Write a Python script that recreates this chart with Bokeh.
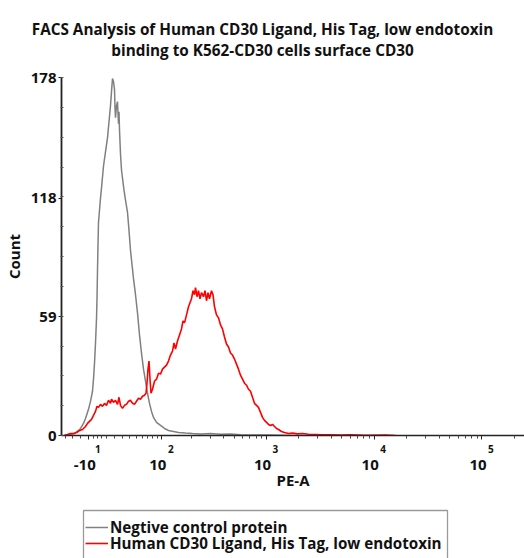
import numpy as np
from bokeh.plotting import figure
from bokeh.layouts import column
from bokeh.models import (Range1d, FixedTicker, Legend, LegendItem, LinearAxis, Label,
                          BoxAnnotation, CustomJSTickFormatter)
from bokeh.embed import file_html
from bokeh.resources import INLINE

title_lines = ["FACS Analysis of Human CD30 Ligand, His Tag, low endotoxin",
               "binding to K562-CD30 cells surface CD30"]
x_label = "PE-A"
y_label = "Count"
series_names = ["Negtive control protein", "Human CD30 Ligand, His Tag, low endotoxin"]

# histogram: display channel (linear display scale of the biexponential axis) and counts
neg_channel = [3, 6, 9, 13, 16, 19, 22, 24, 27, 29, 31, 32, 33, 34, 35, 35.5, 36, 36.5, 37, 38, 39, 40,
               42, 44, 46, 47.5, 49, 50, 51, 52, 53, 53.5, 54, 55, 56, 56.5, 57, 57.5, 58, 59, 60, 61,
               62.5, 64, 66, 67.5, 69, 70.5, 72, 74, 76, 78, 80, 82, 84, 86, 88, 90, 92, 95, 99, 103,
               107, 112, 117, 124, 131, 139, 149, 159, 169, 179, 194, 209, 229]
neg_count = [0, 0.3, 0.5, 1, 2, 3.5, 6, 8.5, 13, 17, 22, 28, 36, 46, 58, 68, 82, 95, 106, 112, 118, 123,
             134, 141, 148, 156, 164, 171, 177.5, 176, 172, 163, 158, 164, 166, 160, 155, 161, 152, 140, 132, 128,
             122, 117, 111, 102, 92, 85, 78, 70, 61, 50, 41, 33, 27, 21, 16, 12, 9, 6.5, 5, 3.5,
             2.5, 2, 1.5, 1.2, 1, 0.8, 1, 0.6, 0.7, 0.4, 0.3, 0.2, 0]

cd30_channel = [3, 6, 9, 12, 15, 18, 21, 24, 26, 28, 30, 32, 34, 35.5, 37, 39, 41, 43, 45, 47, 49, 50,
                52, 54, 56, 57.5, 59, 61, 63, 65, 67, 69, 71, 73, 75, 77, 79, 81, 83, 84.5, 85.5, 86.5,
                87.5, 88.5, 89.5, 91, 93, 95, 97, 99, 101, 103, 105, 107, 109, 111, 112.5, 114, 116, 118,
                120, 121.5, 123, 125, 127, 128.5, 130, 131.5, 133, 134, 135.5, 137, 138.5, 140, 142, 143.5,
                145, 146.5, 148, 150, 151.5, 153, 155, 157, 159, 161, 163, 165, 167, 169, 171, 173, 175,
                177, 179, 181, 183, 185, 187, 189, 191, 193, 195, 197, 199, 201, 203, 205, 207, 209, 211,
                213, 215, 217, 220, 223, 227, 231, 236, 241, 247, 254, 261, 269, 279, 289, 304, 324, 334]
cd30_count = [0, 0.5, 1, 1, 1.5, 2.5, 3, 4.5, 6, 7, 8, 10, 12, 14.5, 14, 15.5, 14.5, 16, 15, 17.5, 16, 18,
              16.5, 17.5, 15.5, 19, 15, 13.5, 15, 15.5, 17, 17.5, 16, 15.5, 17, 18.5, 18, 19.5, 20, 21, 26, 33,
              37, 28, 21, 23, 27, 28, 31, 30.5, 33, 34, 35, 37, 40, 42, 46, 43, 47, 50,
              53, 57, 56, 60, 64, 66, 68, 72, 70, 73.5, 69, 72, 68, 71, 69, 72,
              67, 71, 68, 72, 70, 64, 60, 58.5, 55, 53, 49, 45.5, 44, 41, 40, 38, 35.5,
              33, 30, 28, 26, 25, 23, 22, 19, 16, 15, 14, 11.5, 9, 7.5, 6.5, 5.5, 5, 5.5,
              4.5, 3.5, 3, 2, 1.5, 1, 1.2, 0.8, 1, 0.6, 0.5, 0.3, 0.4, 0.2, 0.3, 0.1, 0.2, 0]

y_ticks = [0, 59, 118, 178]
x_tick_values = [-10, 100, 1000, 10000, 100000]
x_tick_base = ["-10", "10", "10", "10", "10"]
x_tick_exp = ["1", "2", "3", "4", "5"]
x_minor_values = [-40, -30, -20, -5, 0, 5, 10, 20, 30, 40, 50, 60, 70, 80, 90,
                  200, 300, 400, 500, 600, 700, 800, 900,
                  2000, 3000, 4000, 5000, 6000, 7000, 8000, 9000,
                  20000, 30000, 40000, 50000, 60000, 70000, 80000, 90000, 200000]


def to_channel(v):
    # biexponential-like display transform (arcsinh)
    return (35.9 + 46.8 * np.arcsinh(np.asarray(v, dtype=float) / 54.0)).tolist()


def no_align(fig):
    try:
        fig.frame_align = False
    except Exception:
        pass


FONT = "Open Sans"
TXT = "#111111"
GRAY = "#808080"
RED = "#ff0000"
W = 524
H_TITLE, H_MAIN, H_LEG = 65, 440, 53

# ---------------- title strip ----------------
tf = figure(width=W, height=H_TITLE, x_range=Range1d(0, W), y_range=Range1d(0, H_TITLE),
            output_backend="svg", toolbar_location=None,
            x_axis_location=None, y_axis_location=None, min_border=0)
tf.outline_line_color = None
tf.grid.visible = False
no_align(tf)
for i, line in enumerate(title_lines):
    tf.add_layout(Label(x=262, y=H_TITLE - 28 - 21.5 * i, text=line,
                        text_align="center", text_baseline="alphabetic",
                        text_font=FONT, text_font_style="bold", text_font_size="15.3px",
                        text_color=TXT))

# ---------------- main histogram ----------------
p = figure(width=W, height=H_MAIN, x_range=Range1d(0, 463), y_range=Range1d(0, 178),
           output_backend="svg", toolbar_location=None,
           min_border_left=61, min_border_right=0, min_border_top=12, min_border_bottom=70)
p.outline_line_color = None
p.grid.visible = False
no_align(p)

r_neg = p.line(neg_channel, neg_count, line_color=GRAY, line_width=1.5)
r_cd30 = p.line(cd30_channel, cd30_count, line_color=RED, line_width=1.6)

xa = p.xaxis[0]
xa.ticker = FixedTicker(ticks=to_channel(x_tick_values), minor_ticks=to_channel(x_minor_values))
xa.major_label_text_font_size = "0px"
xa.major_label_standoff = 0
xa.axis_line_color = "#222222"
xa.axis_line_width = 1.5
xa.major_tick_line_color = "#222222"
xa.minor_tick_line_color = "#444444"
xa.major_tick_out = 4
xa.major_tick_in = 0
xa.minor_tick_out = 3
xa.minor_tick_in = 0

tick_ch = to_channel(x_tick_values)

exp_axis = LinearAxis(
    ticker=FixedTicker(ticks=[c + 9 for c in tick_ch], minor_ticks=[]),
    formatter=CustomJSTickFormatter(args=dict(labels=x_tick_exp), code="return labels[index]"),
    axis_line_color=None, major_tick_line_color=None, minor_tick_line_color=None,
    major_tick_out=0, major_tick_in=0, minor_tick_out=0, minor_tick_in=0,
    major_label_standoff=5,
    major_label_text_font=FONT, major_label_text_font_style="bold",
    major_label_text_font_size="10px", major_label_text_color=TXT)
p.add_layout(exp_axis, "below")

base_axis = LinearAxis(
    ticker=FixedTicker(ticks=[c - 4 for c in tick_ch], minor_ticks=[]),
    formatter=CustomJSTickFormatter(args=dict(labels=x_tick_base), code="return labels[index]"),
    axis_line_color=None, major_tick_line_color=None, minor_tick_line_color=None,
    major_tick_out=0, major_tick_in=0, minor_tick_out=0, minor_tick_in=0,
    major_label_standoff=4,
    major_label_text_font=FONT, major_label_text_font_style="bold",
    major_label_text_font_size="15px", major_label_text_color=TXT,
    axis_label=x_label, axis_label_standoff=-3,
    axis_label_text_font=FONT, axis_label_text_font_style="bold",
    axis_label_text_font_size="15px", axis_label_text_color=TXT)
p.add_layout(base_axis, "below")

ya = p.yaxis[0]
ya.ticker = FixedTicker(ticks=y_ticks, minor_ticks=np.linspace(0, 178, 13).tolist())
ya.major_label_text_font = FONT
ya.major_label_text_font_style = "bold"
ya.major_label_text_font_size = "15px"
ya.major_label_text_color = TXT
ya.major_label_standoff = 2
ya.axis_line_color = "#222222"
ya.axis_line_width = 1.8
ya.major_tick_line_color = "#222222"
ya.minor_tick_line_color = "#555555"
ya.major_tick_out = 3
ya.major_tick_in = 0
ya.minor_tick_out = 1
ya.minor_tick_in = 2
ya.axis_label = y_label
ya.axis_label_text_font = FONT
ya.axis_label_text_font_style = "bold"
ya.axis_label_text_font_size = "15px"
ya.axis_label_text_color = TXT
ya.axis_label_standoff = 4

# ---------------- legend strip ----------------
lf = figure(width=W, height=H_LEG, x_range=Range1d(0, W), y_range=Range1d(0, H_LEG),
            output_backend="svg", toolbar_location=None,
            x_axis_location=None, y_axis_location=None, min_border=0)
lf.outline_line_color = None
lf.grid.visible = False
no_align(lf)
l_neg = lf.line(x=[np.nan], y=[np.nan], line_color=GRAY, line_width=1.5)
l_cd30 = lf.line(x=[np.nan], y=[np.nan], line_color=RED, line_width=1.6)
lf.add_layout(BoxAnnotation(left=83, right=447, top=H_LEG - 5, bottom=-10,
                            fill_alpha=0, line_color="#9a9a9a", line_alpha=1.0, line_width=1.3))

legend_style = dict(orientation="vertical", padding=0, spacing=0, margin=0,
                    label_height=16, glyph_height=16, glyph_width=23, label_standoff=2,
                    label_text_font=FONT, label_text_font_style="bold",
                    label_text_font_size="15.2px", label_text_color=TXT,
                    label_text_baseline="middle",
                    border_line_color=None, background_fill_alpha=0)
# one legend per row so the rows sit 16 px apart as in the original
lf.add_layout(Legend(items=[LegendItem(label=series_names[0], renderers=[l_neg])],
                     location=(85, 20.6), **legend_style))
lf.add_layout(Legend(items=[LegendItem(label=series_names[1], renderers=[l_cd30])],
                     location=(85, 4.6), **legend_style))

layout = column(tf, p, lf, spacing=0)
open("out.html", "w").write(file_html(layout, INLINE))
